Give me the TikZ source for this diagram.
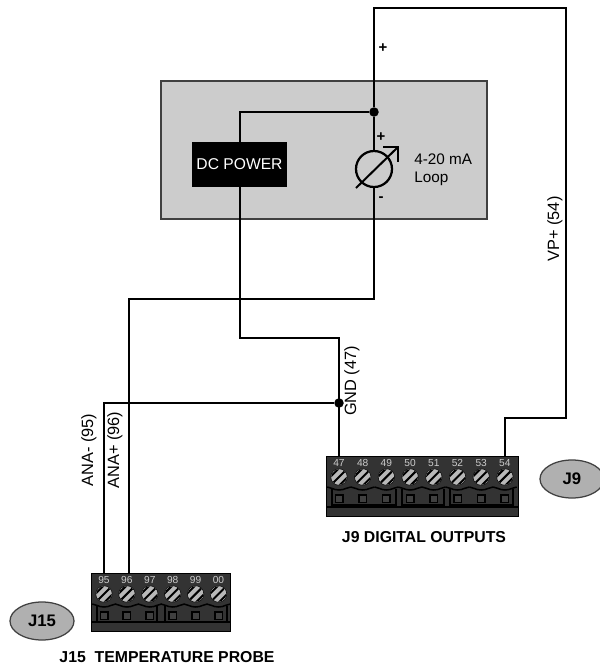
\documentclass[tikz,border=0pt]{standalone}
\usepackage{fontspec}
\setmainfont{Liberation Sans}
\usetikzlibrary{shapes.geometric}

\definecolor{panelgray}{HTML}{CCCCCC}
\definecolor{panelline}{HTML}{404040}
\definecolor{blockgray}{HTML}{333333}
\definecolor{tagcolor}{HTML}{B0B0B0}

\tikzset{
  wire/.style={line width=0.4mm,black},
  panel/.style={draw=panelline,fill=panelgray,line width=0.5mm,minimum width=65.2mm,minimum height=27.6mm,inner sep=0pt},
  powerbox/.style={fill=black,text=white,font=\fontsize{8.9}{10}\selectfont,minimum width=19mm,minimum height=9mm,inner sep=0pt},
  meter/.style={circle,draw=black,line width=0.45mm,minimum size=7.2mm,inner sep=0pt},
  junction/.style={circle,fill=black,minimum size=1.9mm,inner sep=0pt},
  tag/.style={font=\fontsize{8.7}{10.5}\selectfont,inner sep=0pt},
  wirelabel/.style={font=\fontsize{9.3}{10.5}\selectfont,inner sep=0pt,rotate=90},
  sign/.style={font=\bfseries\fontsize{8.5}{10}\selectfont,inner sep=0pt},
  caption/.style={font=\bfseries\fontsize{9}{10}\selectfont,inner sep=0pt},
  conn/.style={ellipse,draw=panelline,fill=tagcolor,line width=0.25mm,minimum width=12.8mm,minimum height=7.6mm,inner sep=0pt,font=\bfseries\fontsize{9.5}{10}\selectfont},
  block/.style={fill=blockgray,draw=black,line width=0.2mm,inner sep=0pt},
  pinnum/.style={text=white!80!black,font=\fontsize{5.8}{6}\selectfont,inner sep=0pt},
  screw/.style={circle,fill=white!72!black,draw=black,line width=0.1mm,minimum size=3.3mm,inner sep=0pt},
  slot/.style={draw=black,fill=white!25!black,line width=0.3mm,minimum size=1.5mm,inner sep=0pt},
  frame/.style={black,line width=0.3mm},
}

% #1 first pin x, #2 top of block, #3 pitch, #4 list of pins
\newcommand{\pinrow}[4]{
  \foreach \pin [count=\i from 0] in {#4} {
    \pgfmathsetmacro{\px}{#1+\i*#3}
    \node[pinnum] (t\pin) at (\px,#2+7) {\pin};
    \node[screw] (s\pin) at (\px,#2+21) {};
    \draw[frame] (\px-11.8,#2+31) .. controls (\px-8,#2+31) and (\px-6,#2+34) .. (\px,#2+34) .. controls (\px+6,#2+34) and (\px+8,#2+31) .. (\px+11.8,#2+31);
    \node[slot] (q\pin) at (\px,#2+42.5) {};
    \begin{scope}
      \clip (s\pin) circle (1.55mm);
      \foreach \d in {-4,0,4}
        \draw[black,line width=0.4mm] (\px-9+\d*1.1,#2+21+9+\d*1.1) -- (\px+9+\d*1.1,#2+21-9+\d*1.1);
    \end{scope}
  }
}
% #1 left, #2 right, #3 top of block
\newcommand{\pinframe}[3]{
  \draw[frame] (#1,#3+33) -- (#1,#3+49) -- (#2,#3+49) -- (#2,#3+33);
}

\begin{document}
\begin{tikzpicture}[x=0.2mm,y=-0.2mm]
  \useasboundingbox (0,0) rectangle (600,667);

  \node[panel] (box) at (324,150) {};
  \node[powerbox] (dc) at (239.5,164.5) {DC POWER};
  \node[junction] (dot1) at (374,112) {};
  \node[junction] (dot2) at (339,403) {};

  % terminal blocks
  \node[block,minimum width=38.2mm,minimum height=12mm] (j9) at (422.5,486) {};
  \node[block,minimum width=27.6mm,minimum height=11.6mm] (j15) at (161,602) {};
  \pinrow{339}{456}{23.7}{47,48,49,50,51,52,53,54}
  \pinrow{104}{573}{22.9}{95,96,97,98,99,00}
  \pinframe{332}{396}{456}
  \pinframe{402}{444}{456}
  \pinframe{450}{513}{456}
  \pinframe{97}{157}{573}
  \pinframe{165}{227}{573}
  \draw[black,line width=0.4mm] (j9.west |- 0,507) -- (j9.east |- 0,507);
  \draw[black,line width=0.4mm] (j15.west |- 0,622) -- (j15.east |- 0,622);

  \coordinate (c1) at (374,8);
  \coordinate (c2) at (566,8);
  \coordinate (c3) at (566,418);
  \coordinate (c4) at (505,418);
  \coordinate (c5) at (240,112);
  \coordinate (c6) at (240,338);
  \coordinate (c7) at (339,338);
  \coordinate (c8) at (374,299);
  \coordinate (c9) at (129,299);
  \coordinate (c10) at (104,403);
  \coordinate (mt) at (374,151);
  \coordinate (mb) at (374,187);

  \draw[wire] (dot1) -- (c1) -- (c2) -- (c3) -- (c4) -- (j9.north -| c4);
  \draw[wire] (dot1) -- (c5) -- (dc.north -| c5);
  \draw[wire] (dc.south -| c6) -- (c6) -- (c7) -- (j9.north -| c7);
  \draw[wire] (dot1) -- (mt);
  \draw[wire] (mb) -- (c8) -- (c9) -- (j15.north -| c9);
  \draw[wire] (j15.north -| c10) -- (c10) -- (dot2);

  % meter arrow
  \node[meter] (m) at (374,169) {};
  \coordinate (a1) at (356,188);
  \coordinate (a2) at (398,147);
  \draw[wire] (a1) -- (a2);
  \draw[wire] (383,147) -- (a2) -- (398,162);

  \node[sign] (p1) at (383,48) {+};
  \node[sign] (p2) at (381,137) {+};
  \node[sign] (p3) at (381,199) {-};
  \node[tag,align=left,anchor=west] (loop) at (414,170) {4-20 mA\\Loop};

  \node[wirelabel] (vp) at (555,229) {VP+ (54)};
  \node[wirelabel] (gnd) at (352,381) {GND (47)};
  \node[wirelabel] (ana1) at (89,450) {ANA- (95)};
  \node[wirelabel] (ana2) at (115,450) {ANA+ (96)};

  \node[conn] (tag9) at (572,479) {J9};
  \node[conn] (tag15) at (42,621) {J15};
  \node[caption] (cap9) at (424,537) {J9 DIGITAL OUTPUTS};
  \node[caption] (cap15) at (167,657) {J15\ \ TEMPERATURE PROBE};
\end{tikzpicture}
\end{document}
